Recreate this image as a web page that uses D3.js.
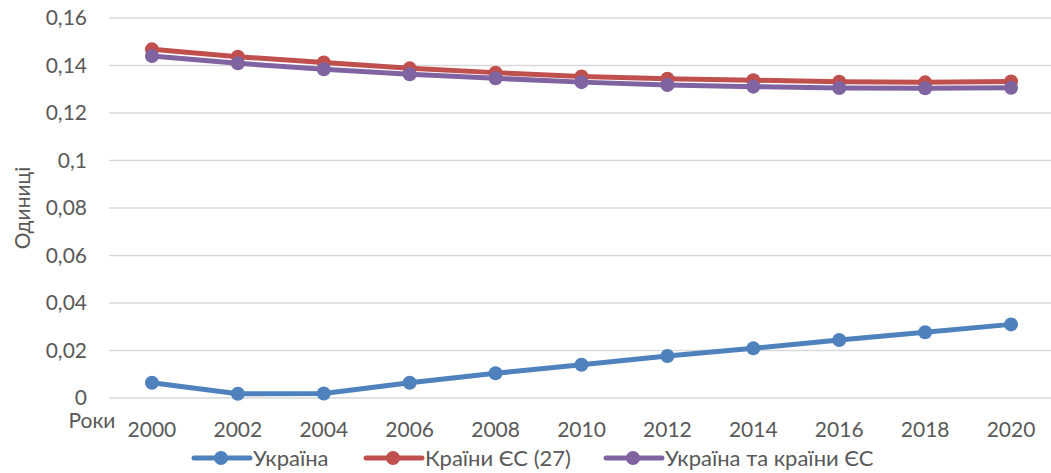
<!DOCTYPE html>
<html lang="uk">
<head>
<meta charset="UTF-8">
<script src="https://d3js.org/d3.v7.min.js"></script>
<style>
    body { margin: 0; background: #fff; }
    text { font-family: Lato, "Open Sans", sans-serif; fill: #595959; }
</style>
</head>
<body>
<svg id="chart" width="1051" height="473"></svg>
<script>
    const years = ["2000", "2002", "2004", "2006", "2008", "2010", "2012", "2014", "2016", "2018", "2020"];
    const ukraine = [0.0064, 0.0018, 0.0019, 0.0064, 0.0104, 0.0140, 0.0177, 0.0209, 0.0244, 0.0277, 0.0310];
    const eu27 = [0.1468, 0.1437, 0.1413, 0.1388, 0.1370, 0.1354, 0.1344, 0.1338, 0.1332, 0.1329, 0.1333];
    const ukraineEu = [0.1440, 0.1409, 0.1384, 0.1363, 0.1346, 0.1330, 0.1318, 0.1311, 0.1305, 0.1304, 0.1306];
    const yTicks = [0, 0.02, 0.04, 0.06, 0.08, 0.1, 0.12, 0.14, 0.16];
    const seriesNames = ["Україна", "Країни ЄС (27)", "Україна та країни ЄС"];
    const colors = ["#4f81bd", "#c0504d", "#8064a2"];

    const series = [ukraine, eu27, ukraineEu].map((vals, i) => ({
        name: seriesNames[i], color: colors[i], values: vals
    }));

    const svg = d3.select("#chart");
    const plotL = 109, plotR = 1054, plotT = 18, plotB = 398;

    const x = d3.scalePoint().domain(years).range([plotL, plotR]).padding(0.5);
    const y = d3.scaleLinear().domain([0, 0.16]).range([plotB, plotT]);

    // gridlines
    svg.append("g")
        .selectAll("line")
        .data(yTicks)
        .enter().append("line")
        .attr("x1", plotL).attr("x2", plotR)
        .attr("y1", d => y(d)).attr("y2", d => y(d))
        .attr("stroke", "#d9d9d9")
        .attr("stroke-width", 1.3);

    // y tick labels
    const fmt = d => String(d).replace(".", ",");
    svg.append("g")
        .selectAll("text")
        .data(yTicks)
        .enter().append("text")
        .attr("x", 87)
        .attr("y", d => y(d))
        .attr("dy", "0.35em")
        .attr("text-anchor", "end")
        .style("font-size", "21px")
        .text(fmt);

    // x tick labels
    svg.append("g")
        .selectAll("text")
        .data(years)
        .enter().append("text")
        .attr("x", d => x(d))
        .attr("y", 437)
        .attr("text-anchor", "middle")
        .style("font-size", "21px")
        .text(d => d);

    svg.append("text")
        .attr("x", 92).attr("y", 428)
        .attr("text-anchor", "middle")
        .style("font-size", "21px")
        .text("Роки");

    svg.append("text")
        .attr("transform", `translate(30,${(plotT + plotB) / 2}) rotate(-90)`)
        .attr("text-anchor", "middle")
        .style("font-size", "21px")
        .text("Одиниці");

    const line = d3.line()
        .x((d, i) => x(years[i]))
        .y(d => y(d));

    series.forEach(s => {
        const g = svg.append("g");
        g.append("path")
            .datum(s.values)
            .attr("d", line)
            .attr("fill", "none")
            .attr("stroke", s.color)
            .attr("stroke-width", 5)
            .attr("stroke-linejoin", "round")
            .attr("stroke-linecap", "round");
        g.selectAll("circle")
            .data(s.values)
            .enter().append("circle")
            .attr("cx", (d, i) => x(years[i]))
            .attr("cy", d => y(d))
            .attr("r", 7)
            .attr("fill", s.color);
    });

    // legend
    const legendX = [194, 366, 606];
    const legend = svg.append("g")
        .selectAll("g")
        .data(series)
        .enter().append("g")
        .attr("transform", (d, i) => `translate(${legendX[i]},458)`);
    legend.append("line")
        .attr("x1", 0).attr("x2", 56)
        .attr("stroke", d => d.color)
        .attr("stroke-width", 5)
        .attr("stroke-linecap", "round");
    legend.append("circle")
        .attr("cx", 27).attr("r", 7)
        .attr("fill", d => d.color);
    legend.append("text")
        .attr("x", 59).attr("dy", "0.35em")
        .style("font-size", "22px")
        .text(d => d.name);
</script>
</body>
</html>
